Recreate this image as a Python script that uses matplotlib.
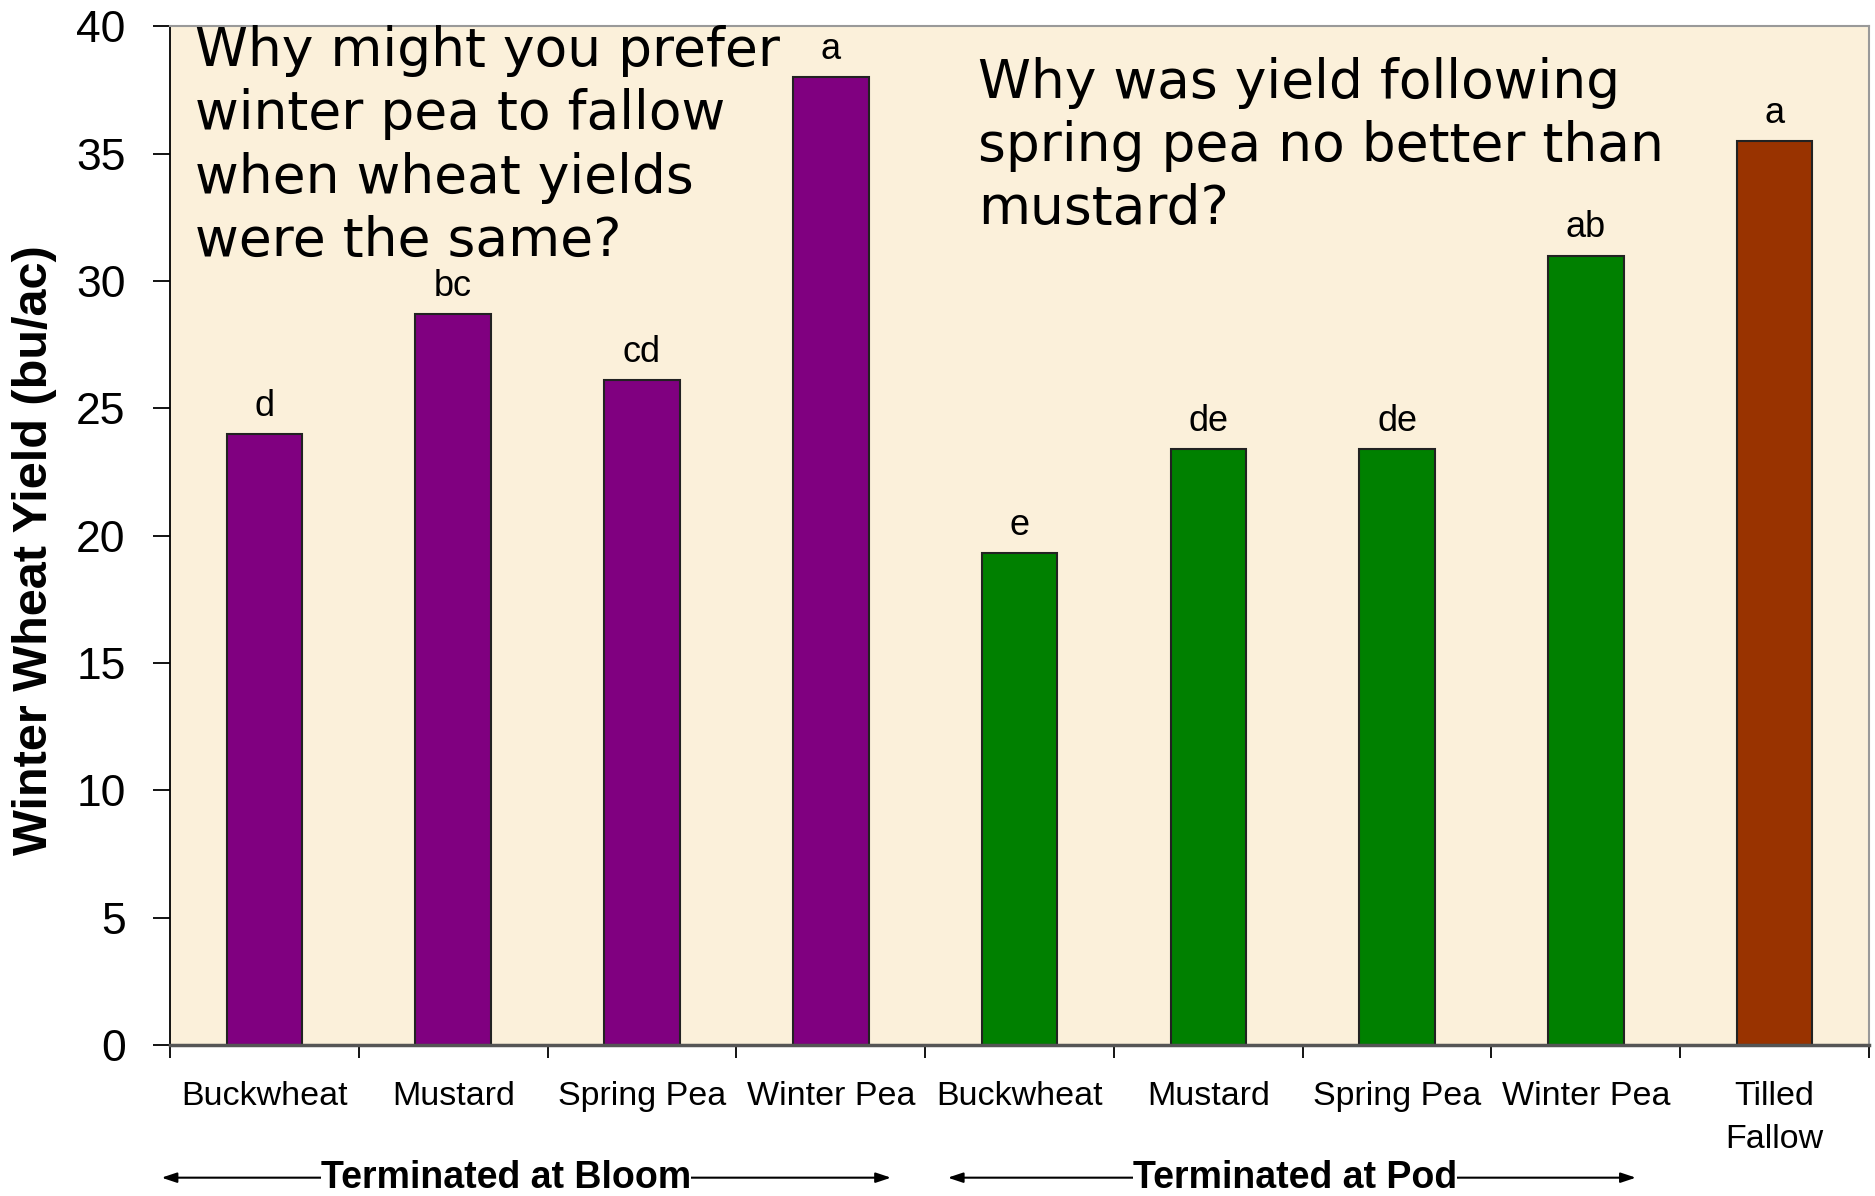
import numpy as np
import matplotlib.pyplot as plt

# winter wheat yield after each cover crop (bu/ac)
categories = ['Buckwheat', 'Mustard', 'Spring Pea', 'Winter Pea',
              'Buckwheat', 'Mustard', 'Spring Pea', 'Winter Pea', 'Tilled\nFallow']
yields = [24.0, 28.7, 26.1, 38.0, 19.3, 23.4, 23.4, 31.0, 35.5]
letters = ['d', 'bc', 'cd', 'a', 'e', 'de', 'de', 'ab', 'a']
bar_colors = ['#800080'] * 4 + ['#008000'] * 4 + ['#993300']
yticks = [0, 5, 10, 15, 20, 25, 30, 35, 40]

note_left = ['Why might you prefer', 'winter pea to fallow',
             'when wheat yields', 'were the same?']
note_right = ['Why was yield following', 'spring pea no better than', 'mustard?']

sans = ['Liberation Sans', 'DejaVu Sans']

fig = plt.figure(figsize=(18.75, 11.96), dpi=100)
ax = fig.add_axes([0.0907, 0.1263, 0.9061, 0.8517])
ax.set_facecolor('#FBF0DA')

x = np.arange(len(categories))
ax.bar(x, yields, width=0.4, color=bar_colors, edgecolor='#222222', linewidth=1.5, zorder=2)

for xi, yi, lab in zip(x, yields, letters):
    ax.annotate(lab, (xi, yi), xytext=(0, 13), textcoords='offset points',
                ha='center', va='baseline', fontsize=26, family=sans)

ax.set_xlim(-0.5, 8.5)
ax.set_ylim(0, 40)

ax.set_yticks(yticks)
ax.set_yticklabels([str(t) for t in yticks], family=sans, fontsize=32)
ax.tick_params(axis='y', length=12, width=1.3, pad=20)

ax.set_xticks(x)
ax.set_xticklabels(categories, family=sans, fontsize=24.5, linespacing=1.5)
ax.tick_params(axis='x', which='major', length=0, pad=26)
ax.set_xticks(np.arange(-0.5, 9.0, 1.0), minor=True)
ax.tick_params(axis='x', which='minor', length=9, width=1.3)

ax.set_ylabel('Winter Wheat Yield (bu/ac)', family=sans, fontsize=35, fontweight='bold')
ax.yaxis.set_label_coords(-0.0665, 0.486)

ax.spines['left'].set_color('black')
ax.spines['left'].set_linewidth(1.3)
ax.spines['bottom'].set_color('#555555')
ax.spines['bottom'].set_linewidth(2.5)
for s in ['top', 'right']:
    ax.spines[s].set_color('#999999')
    ax.spines[s].set_linewidth(1.5)

# the two questions on the slide, one line at a time
for x0, y0, lines in [(-0.37, 40.05, note_left), (3.78, 38.81, note_right)]:
    for i, line in enumerate(lines):
        ax.annotate(line, (x0, y0), xytext=(0, -45.6 * i), textcoords='offset points',
                    ha='left', va='top', fontsize=38.5, family='DejaVu Sans',
                    annotation_clip=False)

# group arrows under the axis
trans = ax.get_xaxis_transform()
for x0, x1, xc, label in [(-0.545, 3.319, 1.278, 'Terminated at Bloom'),
                          (3.62, 7.265, 5.46, 'Terminated at Pod')]:
    ax.annotate('', xy=(x1, -0.1303), xytext=(x0, -0.1303), xycoords=trans,
                textcoords=trans, annotation_clip=False,
                arrowprops=dict(arrowstyle='<|-|>,head_length=0.9,head_width=0.3',
                                color='black', lw=1.5, shrinkA=0, shrinkB=0))
    ax.text(xc, -0.1303, label, transform=trans, ha='center', va='center',
            fontsize=27, fontweight='bold', family=sans, zorder=5,
            bbox=dict(facecolor='white', edgecolor='none', pad=0))

fig.savefig('out.png', dpi=100, facecolor='white')
